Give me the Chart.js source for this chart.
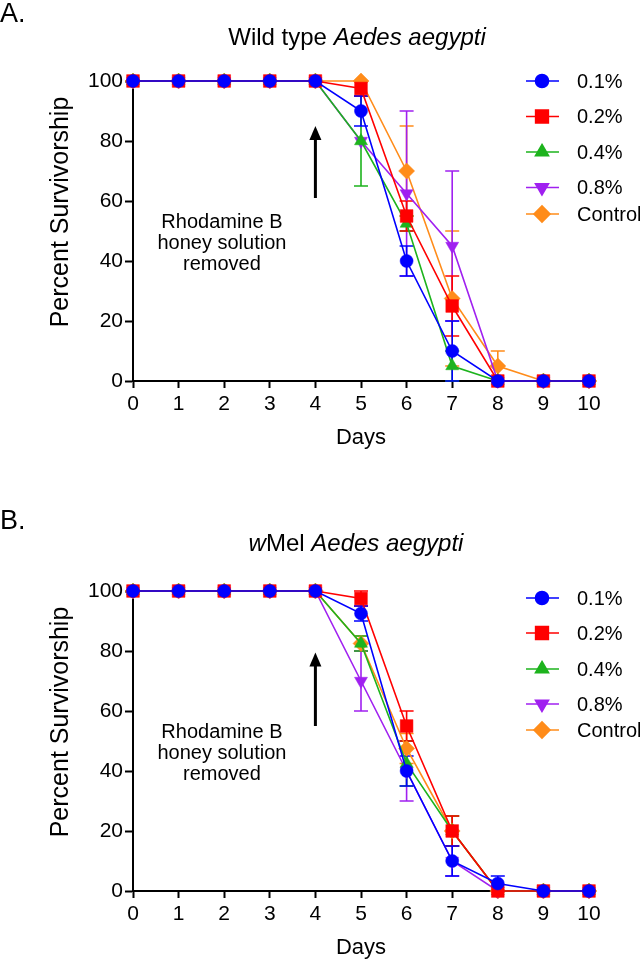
<!DOCTYPE html>
<html>
<head>
<meta charset="utf-8">
<script src="https://cdn.jsdelivr.net/npm/chart.js@4.4.0/dist/chart.umd.min.js"></script>
<style>
  html, body { margin: 0; padding: 0; background: #fff; }
  body { width: 640px; height: 962px; position: relative; overflow: hidden; }
  .panel { position: absolute; left: 0; width: 640px; height: 452px; }
  #wrapA { top: 0; }
  #wrapB { top: 510px; }
</style>
</head>
<body>
<div class="panel" id="wrapA"><canvas id="chartA" width="640" height="452"></canvas></div>
<div class="panel" id="wrapB"><canvas id="chartB" width="640" height="452"></canvas></div>
<script>
// ---------- data ----------
const days = [0, 1, 2, 3, 4, 5, 6, 7, 8, 9, 10];
const seriesNames = ['0.1%', '0.2%', '0.4%', '0.8%', 'Control'];
const yTicks = [0, 20, 40, 60, 80, 100];

// Panel A: Wild type Aedes aegypti
const wt01 = [100, 100, 100, 100, 100, 90, 40, 10, 0, 0, 0];
const wt02 = [100, 100, 100, 100, 100, 97.5, 55, 25, 0, 0, 0];
const wt04 = [100, 100, 100, 100, 100, 80, 52.5, 5, 0, 0, 0];
const wt08 = [100, 100, 100, 100, 100, 80, 62.5, 45, 0, 0, 0];
const wtCtrl = [100, 100, 100, 100, 100, 100, 70, 27.5, 5, 0, 0];
const wt01Err = [0, 0, 0, 0, 0, 5, 5, 10, 0, 0, 0];
const wt02Err = [0, 0, 0, 0, 0, 2.5, 5, 10, 0, 0, 0];
const wt04Err = [0, 0, 0, 0, 0, 15, 2.5, 5, 0, 0, 0];
const wt08Err = [0, 0, 0, 0, 0, 0, 27.5, 25, 0, 0, 0];
const wtCtrlErr = [0, 0, 0, 0, 0, 0, 15, 22.5, 5, 0, 0];

// Panel B: wMel Aedes aegypti
const wm01 = [100, 100, 100, 100, 100, 92.5, 40, 10, 2.5, 0, 0];
const wm02 = [100, 100, 100, 100, 100, 97.5, 55, 20, 0, 0, 0];
const wm04 = [100, 100, 100, 100, 100, 82.5, 42.5, 20, 0, 0, 0];
const wm08 = [100, 100, 100, 100, 100, 70, 40, 10, 0, 0, 0];
const wmCtrl = [100, 100, 100, 100, 100, 82.5, 47.5, 20, 0, 0, 0];
const wm01Err = [0, 0, 0, 0, 0, 2.5, 5, 5, 2.5, 0, 0];
const wm02Err = [0, 0, 0, 0, 0, 2.5, 5, 5, 0, 0, 0];
const wm04Err = [0, 0, 0, 0, 0, 2.5, 7.5, 5, 0, 0, 0];
const wm08Err = [0, 0, 0, 0, 0, 10, 10, 5, 0, 0, 0];
const wmCtrlErr = [0, 0, 0, 0, 0, 2.5, 5, 5, 0, 0, 0];

// ---------- styles ----------
const colors = ['#0000FF', '#FF0000', '#1DB31D', '#A020F0', '#FF8C1A'];
const pointStyles = ['circle', 'rect', 'triangle', 'triangle', 'rectRot'];
const pointRotations = [0, 0, 0, 180, 0];
const pointRadii = [6.5, 9, 7.5, 7.5, 8];
const FONT = "'Liberation Sans', Arial, sans-serif";

function makeDatasets(valueArrays, errArrays) {
  return valueArrays.map((vals, i) => ({
    label: seriesNames[i],
    data: days.map((d, j) => ({ x: d, y: vals[j] })),
    err: errArrays[i],
    borderColor: colors[i],
    backgroundColor: colors[i],
    borderWidth: 1.6,
    pointStyle: pointStyles[i],
    rotation: pointRotations[i],
    pointRotation: pointRotations[i],
    pointRadius: pointRadii[i],
    pointBorderWidth: 0.5,
    pointBackgroundColor: colors[i],
    pointBorderColor: colors[i],
    tension: 0,
    clip: false
  }));
}

// error bar plugin
const errorBars = {
  id: 'errorBars',
  beforeDatasetsDraw(chart) {
    const { ctx, scales: { x, y } } = chart;
    ctx.save();
    for (let i = chart.data.datasets.length - 1; i >= 0; i--) {
      const ds = chart.data.datasets[i];
      ctx.strokeStyle = ds.borderColor;
      ctx.lineWidth = 1.6;
      ds.data.forEach((p, j) => {
        const e = ds.err[j];
        if (!e) return;
        const px = x.getPixelForValue(p.x);
        const lo = y.getPixelForValue(Math.max(0, p.y - e));
        const hi = y.getPixelForValue(Math.min(100, p.y + e));
        ctx.beginPath();
        ctx.moveTo(px, lo); ctx.lineTo(px, hi);
        ctx.moveTo(px - 7, lo); ctx.lineTo(px + 7, lo);
        ctx.moveTo(px - 7, hi); ctx.lineTo(px + 7, hi);
        ctx.stroke();
      });
    }
    ctx.restore();
  }
};

// decorations: panel letter, titles, legend, arrow annotation
const decor = {
  id: 'decor',
  afterDraw(chart, args, opts) {
    const { ctx, chartArea, scales: { x, y } } = chart;
    ctx.save();
    ctx.fillStyle = '#000';
    // panel letter
    ctx.font = '27px ' + FONT;
    ctx.textBaseline = 'middle';
    ctx.textAlign = 'left';
    ctx.fillText(opts.letter, 0, opts.letterY);
    // title with mixed italic
    const tsize = '24px ';
    let total = 0;
    opts.title.forEach(seg => {
      ctx.font = (seg.italic ? 'italic ' : '') + tsize + FONT;
      total += ctx.measureText(seg.text).width;
    });
    let tx = opts.titleX - total / 2;
    opts.title.forEach(seg => {
      ctx.font = (seg.italic ? 'italic ' : '') + tsize + FONT;
      ctx.fillText(seg.text, tx, opts.titleY);
      tx += ctx.measureText(seg.text).width;
    });
    // y axis title
    ctx.save();
    ctx.translate(61, chartArea.top + 131);
    ctx.rotate(-Math.PI / 2);
    ctx.textAlign = 'center';
    ctx.font = '25px ' + FONT;
    ctx.fillText('Percent Survivorship', 0, 0);
    ctx.restore();
    // legend
    const lx = chartArea.right - 47;
    chart.data.datasets.forEach((ds, i) => {
      const ly = chartArea.top + opts.legendOffsets[i];
      ctx.strokeStyle = ds.borderColor;
      ctx.lineWidth = 1.6;
      ctx.beginPath();
      ctx.moveTo(lx - 16, ly); ctx.lineTo(lx + 17, ly);
      ctx.stroke();
      ctx.fillStyle = ds.borderColor;
      Chart.helpers.drawPoint(ctx, {
        pointStyle: ds.pointStyle, rotation: ds.rotation,
        radius: ds.pointRadius, borderWidth: 0.5
      }, lx, ly);
      ctx.fillStyle = '#000';
      ctx.font = '20px ' + FONT;
      ctx.textAlign = 'left';
      ctx.fillText(ds.label, chartArea.right - 12, ly + 1);
    });
    // arrow
    const ax = x.getPixelForValue(4);
    const a0 = y.getPixelForValue(opts.arrowFrom);
    const a1 = y.getPixelForValue(opts.arrowTo);
    ctx.strokeStyle = '#000';
    ctx.fillStyle = '#000';
    ctx.lineWidth = 3;
    ctx.beginPath();
    ctx.moveTo(ax, a0); ctx.lineTo(ax, a1 + 12);
    ctx.stroke();
    ctx.beginPath();
    ctx.moveTo(ax, a1); ctx.lineTo(ax - 6, a1 + 14); ctx.lineTo(ax + 6, a1 + 14);
    ctx.closePath(); ctx.fill();
    // annotation text
    ctx.font = '20px ' + FONT;
    ctx.textAlign = 'center';
    const cx = x.getPixelForValue(1.95);
    ['Rhodamine B', 'honey solution', 'removed'].forEach((t, k) => {
      ctx.fillText(t, cx, y.getPixelForValue(53) + k * 21);
    });
    ctx.restore();
  }
};

function makeChart(id, valueArrays, errArrays, decorOpts) {
  return new Chart(document.getElementById(id), {
    type: 'line',
    data: { datasets: makeDatasets(valueArrays, errArrays) },
    plugins: [errorBars, decor],
    options: {
      responsive: false,
      animation: false,
      events: [],
      layout: { padding: { top: 81, right: 51, left: 0, bottom: 0 } },
      plugins: {
        legend: { display: false },
        tooltip: { enabled: false },
        decor: decorOpts
      },
      scales: {
        x: {
          type: 'linear', min: 0, max: 10,
          afterFit(s) { s.height = 71; },
          afterBuildTicks(s) { s.ticks = days.map(v => ({ value: v })); },
          grid: { drawOnChartArea: false, drawTicks: true, tickLength: 7, tickWidth: 2, tickColor: '#000' },
          border: { display: true, color: '#000', width: 2 },
          ticks: { color: '#000', padding: 4, maxRotation: 0, font: { family: FONT, size: 21 } },
          title: { display: true, text: 'Days', color: '#000', font: { family: FONT, size: 22 }, padding: { top: 0, bottom: 1 } }
        },
        y: {
          type: 'linear', min: 0, max: 100,
          afterFit(s) { s.width = 133; },
          afterBuildTicks(s) { s.ticks = yTicks.map(v => ({ value: v })); },
          grid: { drawOnChartArea: false, drawTicks: true, tickLength: 8, tickWidth: 2, tickColor: '#000' },
          border: { display: true, color: '#000', width: 2 },
          ticks: { color: '#000', padding: 2, font: { family: FONT, size: 21 } },
          title: { display: false }
        }
      }
    }
  });
}

makeChart('chartA',
  [wt01, wt02, wt04, wt08, wtCtrl],
  [wt01Err, wt02Err, wt04Err, wt08Err, wtCtrlErr],
  {
    letter: 'A.', letterY: 15, titleX: 357, titleY: 38,
    title: [{ text: 'Wild type ', italic: false }, { text: 'Aedes aegypti', italic: true }],
    legendOffsets: [0, 35.5, 71, 106.5, 133],
    arrowFrom: 61, arrowTo: 85
  });

makeChart('chartB',
  [wm01, wm02, wm04, wm08, wmCtrl],
  [wm01Err, wm02Err, wm04Err, wm08Err, wmCtrlErr],
  {
    letter: 'B.', letterY: 12, titleX: 356, titleY: 34,
    title: [{ text: 'w', italic: true }, { text: 'Mel ', italic: false }, { text: 'Aedes aegypti', italic: true }],
    legendOffsets: [7, 42, 78, 113, 139],
    arrowFrom: 55, arrowTo: 79.5
  });
</script>
</body>
</html>
